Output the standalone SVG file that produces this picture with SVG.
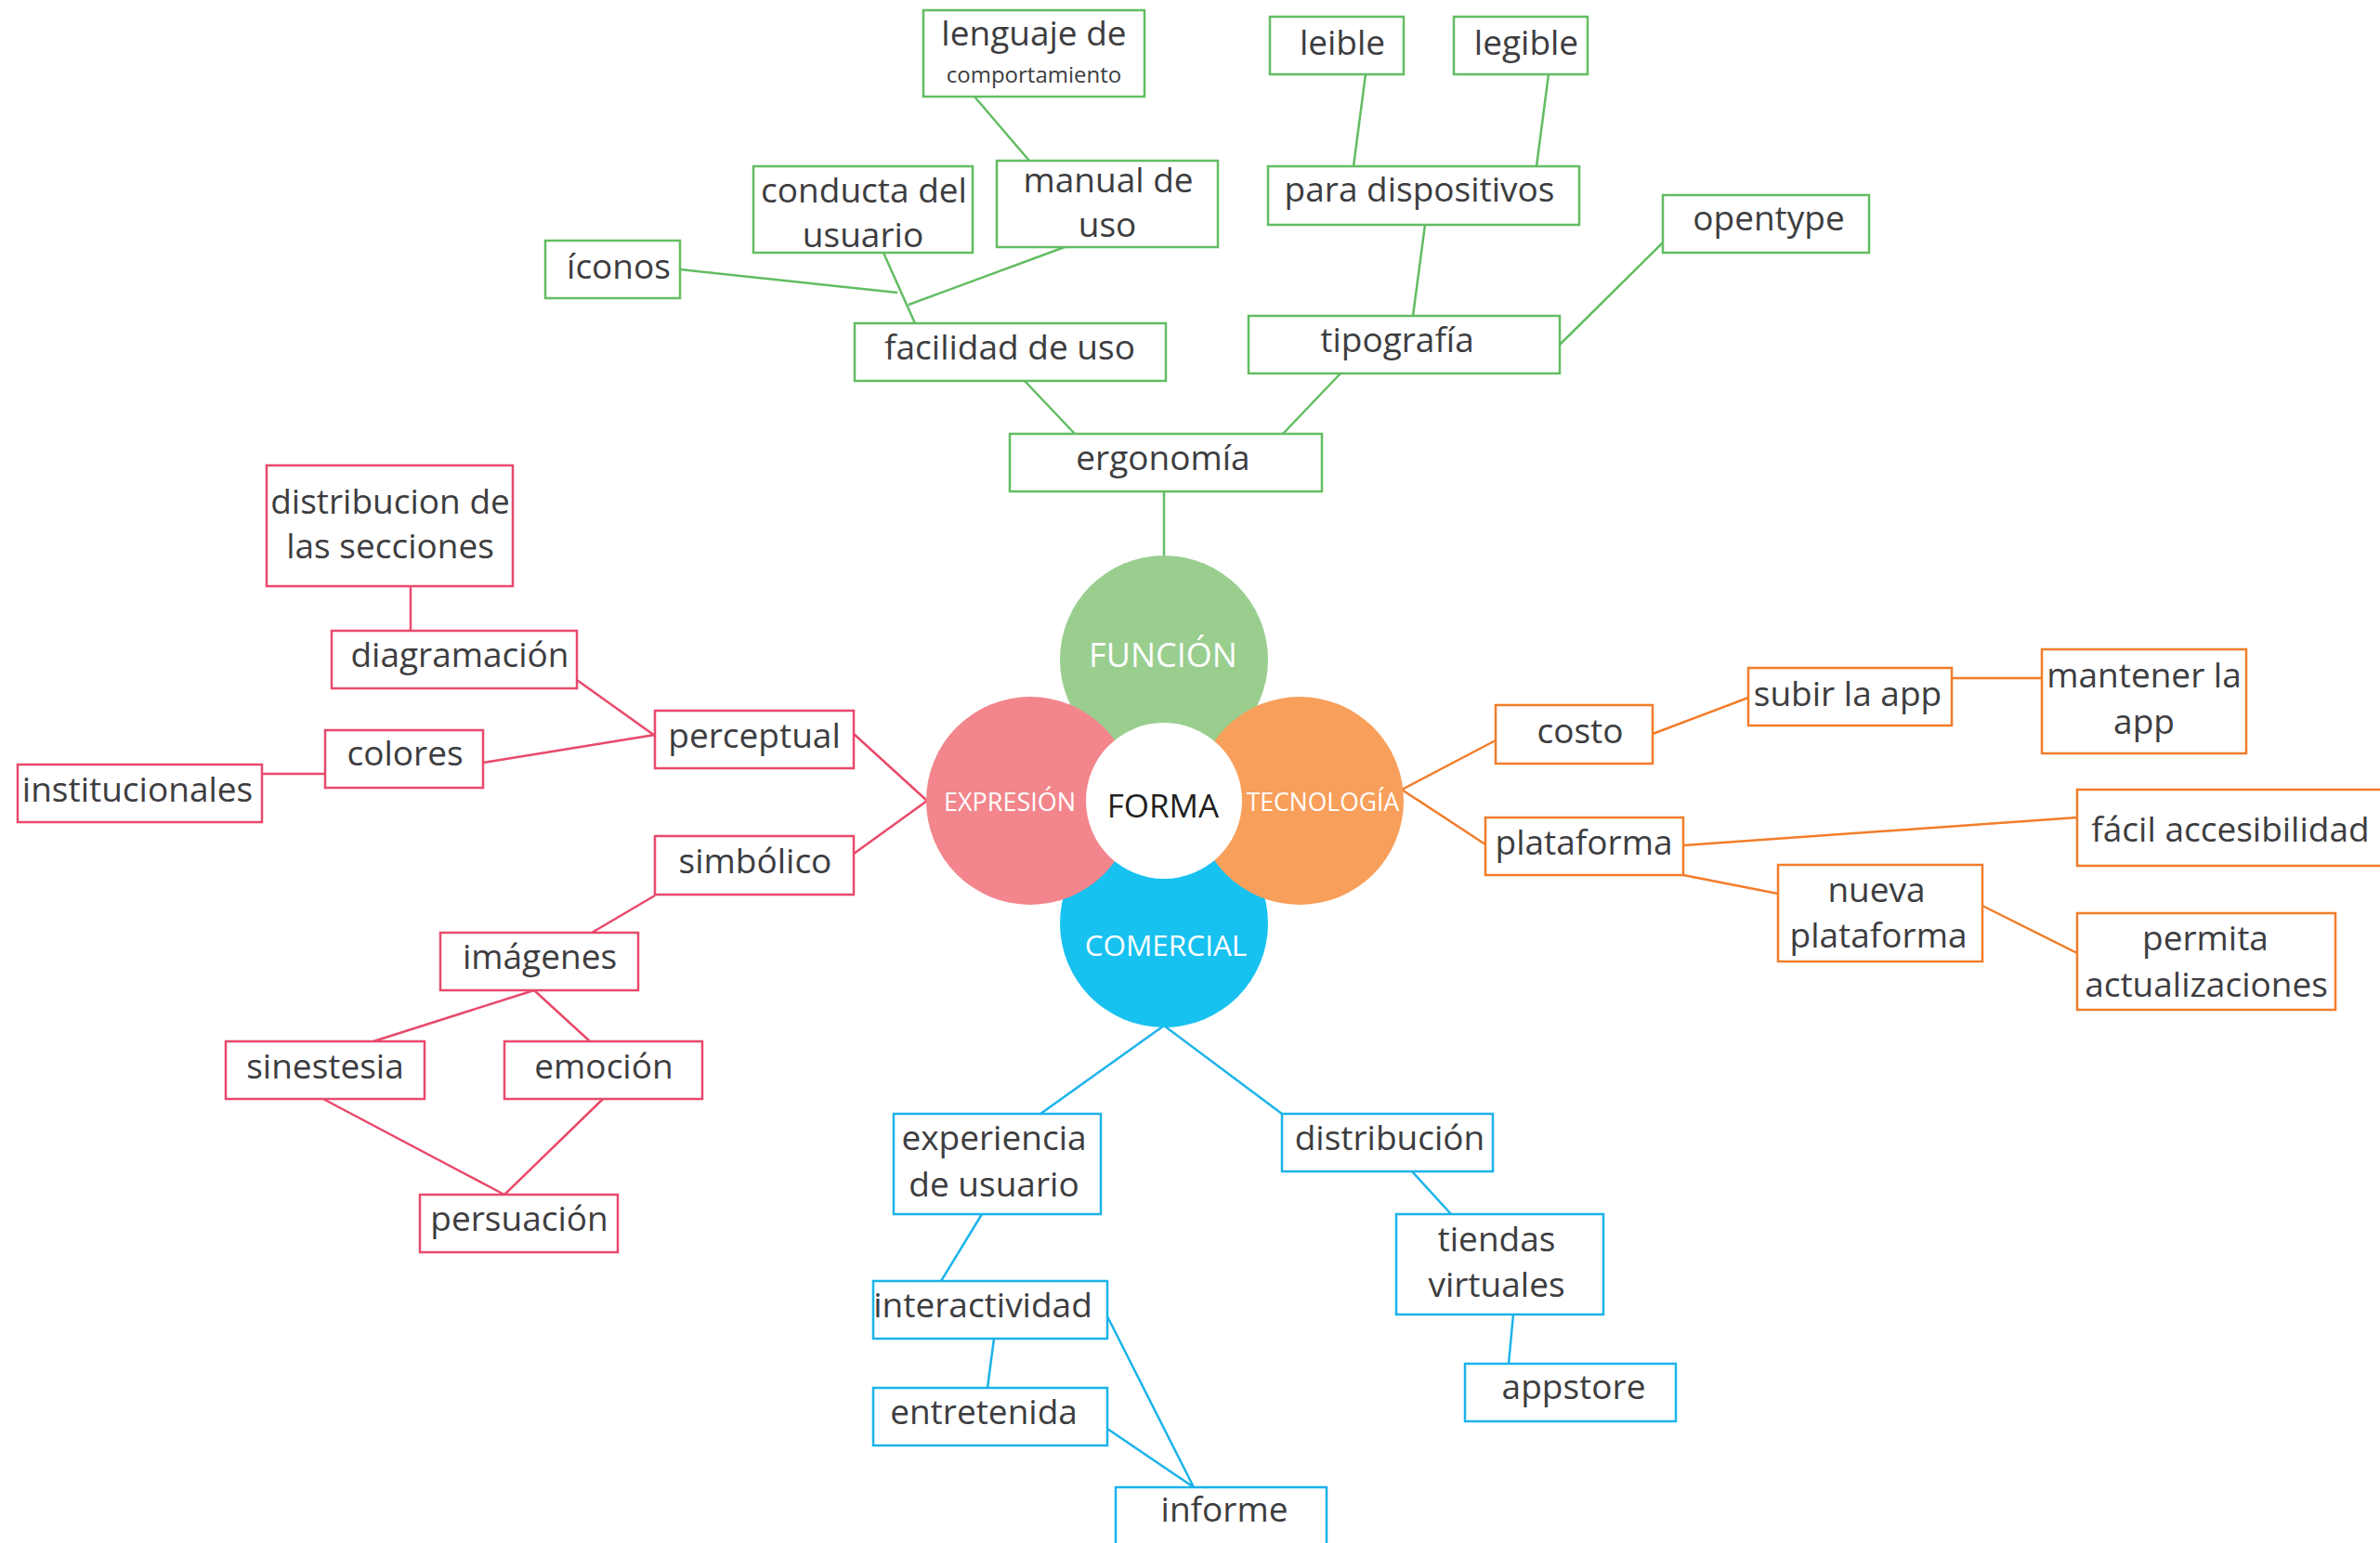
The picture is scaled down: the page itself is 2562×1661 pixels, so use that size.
<svg xmlns="http://www.w3.org/2000/svg" width="2562" height="1661" viewBox="0 0 2562 1661">
<style>
text{font-family:"Open Sans","Noto Sans","Liberation Sans",sans-serif;font-size:37px;fill:#3d3d3f;text-anchor:middle}
.g rect{fill:#fff;stroke:#62bd62;stroke-width:2.5}
.r rect{fill:#fff;stroke:#e9496b;stroke-width:2.5}
.o rect{fill:#fff;stroke:#f27d2a;stroke-width:2.5}
.b rect{fill:#fff;stroke:#1bb3ea;stroke-width:2.5}
#connectors line{stroke-width:2.5;fill:none}
.lg{stroke:#62bd62}.lr{stroke:#e9496b}.lo{stroke:#f27d2a}.lb{stroke:#1bb3ea}
.ct{fill:#fff}
</style>
<rect width="2562" height="1661" fill="#fff"/>
<g id="connectors">
<line class="lg" x1="1049" y1="104" x2="1108" y2="173"/>
<line class="lg" x1="1470" y1="80" x2="1457" y2="179"/>
<line class="lg" x1="1667" y1="80" x2="1654" y2="179"/>
<line class="lg" x1="1534" y1="242" x2="1521" y2="340"/>
<line class="lg" x1="1790" y1="261" x2="1679" y2="371"/>
<line class="lg" x1="951" y1="272" x2="985" y2="348"/>
<line class="lg" x1="732" y1="290" x2="966" y2="315"/>
<line class="lg" x1="1146" y1="266" x2="978" y2="328"/>
<line class="lg" x1="1103" y1="410" x2="1157" y2="467"/>
<line class="lg" x1="1443" y1="402" x2="1381" y2="467"/>
<line class="lg" x1="1253" y1="529" x2="1253" y2="600"/>
<line class="lr" x1="442" y1="631" x2="442" y2="679"/>
<line class="lr" x1="621" y1="732" x2="705" y2="792"/>
<line class="lr" x1="520" y1="821" x2="705" y2="791"/>
<line class="lr" x1="282" y1="833" x2="350" y2="833"/>
<line class="lr" x1="919" y1="790" x2="998" y2="862"/>
<line class="lr" x1="919" y1="919" x2="998" y2="862"/>
<line class="lr" x1="705" y1="964" x2="637" y2="1004"/>
<line class="lr" x1="575" y1="1066" x2="402" y2="1121"/>
<line class="lr" x1="575" y1="1066" x2="635" y2="1121"/>
<line class="lr" x1="348" y1="1183" x2="543" y2="1286"/>
<line class="lr" x1="649" y1="1183" x2="543" y2="1286"/>
<line class="lo" x1="1509" y1="850" x2="1610" y2="797"/>
<line class="lo" x1="1509" y1="850" x2="1599" y2="909"/>
<line class="lo" x1="1779" y1="790" x2="1882" y2="751"/>
<line class="lo" x1="2101" y1="730" x2="2198" y2="730"/>
<line class="lo" x1="1812" y1="910" x2="2236" y2="880"/>
<line class="lo" x1="1812" y1="942" x2="1914" y2="962"/>
<line class="lo" x1="2134" y1="975" x2="2236" y2="1026"/>
<line class="lb" x1="1253" y1="1104" x2="1120" y2="1199"/>
<line class="lb" x1="1253" y1="1104" x2="1380" y2="1199"/>
<line class="lb" x1="1057" y1="1307" x2="1013" y2="1379"/>
<line class="lb" x1="1070" y1="1441" x2="1063" y2="1494"/>
<line class="lb" x1="1192" y1="1417" x2="1285" y2="1601"/>
<line class="lb" x1="1192" y1="1538" x2="1285" y2="1601"/>
<line class="lb" x1="1520" y1="1261" x2="1562" y2="1307"/>
<line class="lb" x1="1629" y1="1415" x2="1624" y2="1468"/>
</g>
<g id="center">
<circle cx="1253" cy="710" r="112" fill="#99ce8f"/>
<circle cx="1253" cy="994" r="112" fill="#17c1f0"/>
<circle cx="1109" cy="862" r="112" fill="#f2868c"/>
<circle cx="1399" cy="862" r="112" fill="#f89f5b"/>
<circle cx="1253" cy="862" r="84" fill="#fff"/>
<text class="ct" x="1252" y="718" style="font-size:36px">FUNCIÓN</text>
<text class="ct" x="1087" y="873" style="font-size:27px">EXPRESIÓN</text>
<text class="ct" x="1424" y="873" style="font-size:26.5px">TECNOLOGÍA</text>
<text class="ct" x="1255" y="1029" style="font-size:31.5px">COMERCIAL</text>
<text x="1252" y="880" style="font-size:35px;fill:#231f20">FORMA</text>
</g>
<g class="g">
<g id="n-lenguaje"><rect x="994" y="11" width="238" height="93"/><text x="1113" y="49">lenguaje de</text><text x="1113" y="89" style="font-size:24px">comportamiento</text></g>
<g id="n-leible"><rect x="1367" y="18" width="144" height="62"/><text x="1445" y="59">leible</text></g>
<g id="n-legible"><rect x="1565" y="18" width="144" height="62"/><text x="1643" y="59">legible</text></g>
<g id="n-manual"><rect x="1073" y="173" width="238" height="93"/><text x="1193" y="207">manual de</text><text x="1192" y="255">uso</text></g>
<g id="n-conducta"><rect x="811" y="179" width="236" height="93"/><text x="930" y="218">conducta del</text><text x="929" y="266">usuario</text></g>
<g id="n-para"><rect x="1365" y="179" width="335" height="63"/><text x="1528" y="217">para dispositivos</text></g>
<g id="n-opentype"><rect x="1790" y="210" width="222" height="62"/><text x="1904" y="248">opentype</text></g>
<g id="n-iconos"><rect x="587" y="259" width="145" height="62"/><text x="666" y="300">íconos</text></g>
<g id="n-facilidad"><rect x="920" y="348" width="335" height="62"/><text x="1087" y="387">facilidad de uso</text></g>
<g id="n-tipografia"><rect x="1344" y="340" width="335" height="62"/><text x="1504" y="379">tipografía</text></g>
<g id="n-ergonomia"><rect x="1087" y="467" width="336" height="62"/><text x="1252" y="506">ergonomía</text></g>
</g>
<g class="r">
<g id="n-distribucion-secciones"><rect x="287" y="501" width="265" height="130"/><text x="420" y="553">distribucion de</text><text x="420" y="601">las secciones</text></g>
<g id="n-diagramacion"><rect x="357" y="679" width="264" height="62"/><text x="495" y="718">diagramación</text></g>
<g id="n-colores"><rect x="350" y="786" width="170" height="62"/><text x="436" y="824">colores</text></g>
<g id="n-institucionales"><rect x="19" y="823" width="263" height="62"/><text x="148" y="863">institucionales</text></g>
<g id="n-perceptual"><rect x="705" y="765" width="214" height="62"/><text x="812" y="805">perceptual</text></g>
<g id="n-simbolico"><rect x="705" y="900" width="214" height="63"/><text x="813" y="940">simbólico</text></g>
<g id="n-imagenes"><rect x="474" y="1004" width="213" height="62"/><text x="581" y="1043">imágenes</text></g>
<g id="n-sinestesia"><rect x="243" y="1121" width="214" height="62"/><text x="350" y="1161">sinestesia</text></g>
<g id="n-emocion"><rect x="543" y="1121" width="213" height="62"/><text x="650" y="1161">emoción</text></g>
<g id="n-persuacion"><rect x="452" y="1286" width="213" height="62"/><text x="559" y="1325">persuación</text></g>
</g>
<g class="o">
<g id="n-costo"><rect x="1610" y="759" width="169" height="63"/><text x="1701" y="800">costo</text></g>
<g id="n-subir"><rect x="1882" y="719" width="219" height="62"/><text x="1989" y="760">subir la app</text></g>
<g id="n-mantener"><rect x="2198" y="699" width="220" height="112"/><text x="2308" y="740">mantener la</text><text x="2308" y="790">app</text></g>
<g id="n-plataforma"><rect x="1599" y="880" width="213" height="62"/><text x="1705" y="920">plataforma</text></g>
<g id="n-facil"><rect x="2236" y="850" width="330" height="82"/><text x="2401" y="906">fácil accesibilidad</text></g>
<g id="n-nueva"><rect x="1914" y="931" width="220" height="104"/><text x="2020" y="971">nueva</text><text x="2022" y="1020">plataforma</text></g>
<g id="n-permita"><rect x="2236" y="983" width="278" height="104"/><text x="2374" y="1023">permita</text><text x="2375" y="1073">actualizaciones</text></g>
</g>
<g class="b">
<g id="n-experiencia"><rect x="962" y="1199" width="223" height="108"/><text x="1070" y="1238">experiencia</text><text x="1070" y="1288">de usuario</text></g>
<g id="n-distribucion"><rect x="1380" y="1199" width="227" height="62"/><text x="1496" y="1238">distribución</text></g>
<g id="n-interactividad"><rect x="940" y="1379" width="252" height="62"/><text x="1058" y="1418">interactividad</text></g>
<g id="n-entretenida"><rect x="940" y="1494" width="252" height="62"/><text x="1059" y="1533">entretenida</text></g>
<g id="n-informe"><rect x="1201" y="1601" width="227" height="80"/><text x="1318" y="1638">informe</text></g>
<g id="n-tiendas"><rect x="1503" y="1307" width="223" height="108"/><text x="1611" y="1347">tiendas</text><text x="1611" y="1396">virtuales</text></g>
<g id="n-appstore"><rect x="1577" y="1468" width="227" height="62"/><text x="1694" y="1506">appstore</text></g>
</g>
</svg>
